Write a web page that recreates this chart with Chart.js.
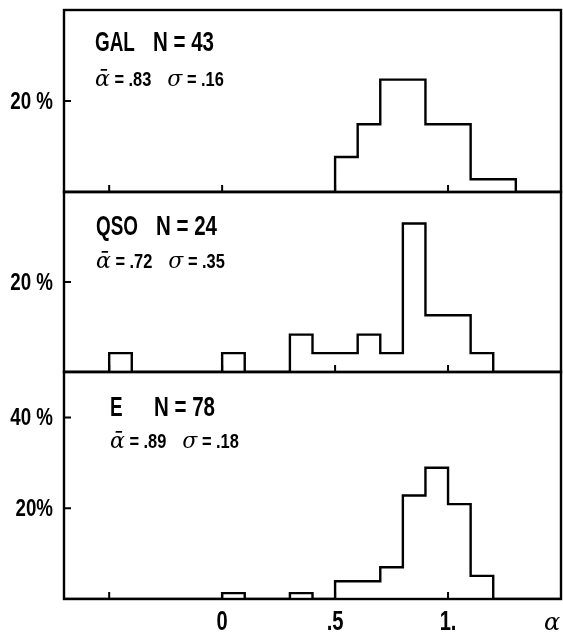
<!DOCTYPE html>
<html>
<head>
<meta charset="utf-8">
<script src="https://cdn.jsdelivr.net/npm/chart.js@4.4.1/dist/chart.umd.min.js"></script>
<style>
html, body { margin: 0; padding: 0; background: #fff; }
#quadro { position: relative; width: 563px; height: 634px; }
canvas { position: absolute; left: 0; top: 0; }
</style>
</head>
<body>
<div id="quadro">
  <canvas id="gal" width="563" height="634"></canvas>
  <canvas id="qso" width="563" height="634"></canvas>
  <canvas id="eli" width="563" height="634"></canvas>
</div>
<script>
// Bordas esquerdas das classes de alfa (largura 0.1)
const classes = [-0.7, -0.6, -0.5, -0.4, -0.3, -0.2, -0.1, 0.0, 0.1, 0.2, 0.3, 0.4, 0.5, 0.6, 0.7, 0.8, 0.9, 1.0, 1.1, 1.2, 1.3, 1.4];
const fimClasses = 1.5;

// Percentuais por classe
const galPct = [0, 0, 0, 0, 0, 0, 0, 0, 0, 0, 0, 0, 7.7, 14.9, 24.7, 24.7, 14.9, 14.9, 2.8, 2.8, 0, 0];
const qsoPct = [0, 0, 4.2, 0, 0, 0, 0, 4.2, 0, 0, 8.3, 4.2, 4.2, 8.3, 4.2, 33, 12.6, 12.6, 4.2, 0, 0, 0];
const ePct   = [0, 0, 0, 0, 0, 0, 0, 1.3, 0, 0, 1.3, 0, 3.9, 3.9, 7.0, 22.8, 28.9, 20.9, 5.1, 0, 0, 0];

// Marcas e rótulos dos eixos
const xMarcas = [-0.5, 0, 0.5, 1.0];
const xRotValores = [0, 0.5, 1.0];
const xRotTextos = ['0', '.5', '1.'];
const galYMarcas = [20], galYRotulos = ['20 %'];
const qsoYMarcas = [20], qsoYRotulos = ['20 %'];
const eYMarcas = [20, 40], eYRotulos = ['20%', '40 %'];

const fonteCond = '"Liberation Sans", Arial, sans-serif';
const fonteGrega = '"DejaVu Serif", "Liberation Serif", serif';

// texto comprimido na horizontal (imita fonte condensada)
function texto(ctx, str, x, y, fonte, alinhar, sx) {
    ctx.save();
    ctx.font = fonte;
    const w = ctx.measureText(str).width * sx;
    const x0 = alinhar === 'right' ? x - w : alinhar === 'center' ? x - w / 2 : x;
    ctx.translate(x0, y);
    ctx.scale(sx, 1);
    ctx.textAlign = 'left';
    ctx.textBaseline = 'middle';
    ctx.fillText(str, 0, 0);
    ctx.restore();
    return w;
}

// Moldura, marcas internas e textos de cada painel
const moldura = {
    id: 'moldura',
    afterDraw(chart, args, o) {
        const { ctx, chartArea: a } = chart;
        const x = chart.scales.x, y = chart.scales.y;
        ctx.save();
        ctx.strokeStyle = '#000';
        ctx.fillStyle = '#000';
        ctx.lineWidth = 2.4;
        ctx.strokeRect(a.left, a.top, a.right - a.left, a.bottom - a.top);
        ctx.lineWidth = 2;
        ctx.beginPath();
        xMarcas.forEach(v => {
            const px = x.getPixelForValue(v);
            ctx.moveTo(px, a.bottom);
            ctx.lineTo(px, a.bottom - 7);
        });
        o.yMarcas.forEach(v => {
            const py = y.getPixelForValue(v);
            ctx.moveTo(a.left, py);
            ctx.lineTo(a.left + 7, py);
        });
        ctx.stroke();

        // rótulos do eixo y
        o.yMarcas.forEach((v, i) => {
            texto(ctx, o.yRotulos[i], a.left - 11, y.getPixelForValue(v) + 1, 'bold 24px ' + fonteCond, 'right', 0.78);
        });

        // título do painel
        const grande = 'bold 27px ' + fonteCond;
        texto(ctx, o.nome, a.left + o.tx, a.top + o.ty1, grande, 'left', 0.7);
        texto(ctx, 'N = ' + o.n, a.left + o.nx, a.top + o.ty1, grande, 'left', 0.76);

        // média e desvio
        const num = 'bold 20px ' + fonteCond;
        const gr = 'italic 22px ' + fonteGrega;
        let px = a.left + o.tx;
        const py = a.top + o.ty2;
        px += texto(ctx, '\u1FB1', px, py, gr, 'left', 1);
        px += texto(ctx, ' = .' + o.media, px, py, num, 'left', 0.82);
        px += 16;
        px += texto(ctx, '\u03C3', px, py, gr, 'left', 1);
        texto(ctx, ' = .' + o.sigma, px, py, num, 'left', 0.82);

        // eixo x do painel de baixo
        if (o.eixoX) {
            xRotValores.forEach((v, i) => {
                texto(ctx, xRotTextos[i], x.getPixelForValue(v), 622, 'bold 28px ' + fonteCond, 'center', 0.72);
            });
            texto(ctx, '\u03B1', a.right - 9, 624, 'italic 24px ' + fonteGrega, 'center', 1);
        }
        ctx.restore();
    }
};

function painel(id, valores, yMax, yMarcas, yRotulos, padTop, padBottom, textos, comEixoX) {
    const pontos = classes.map((c, i) => ({ x: c, y: valores[i] }));
    pontos.push({ x: fimClasses, y: 0 });
    return new Chart(document.getElementById(id), {
        type: 'line',
        data: {
            datasets: [{
                data: pontos,
                stepped: 'before',
                borderColor: '#000',
                borderWidth: 2.4,
                pointRadius: 0,
                fill: false
            }]
        },
        options: {
            responsive: false,
            animation: false,
            events: [],
            layout: { padding: { top: padTop, bottom: padBottom, left: 0, right: 2 } },
            plugins: {
                legend: { display: false },
                tooltip: { enabled: false },
                moldura: Object.assign({ yMarcas: yMarcas, yRotulos: yRotulos, eixoX: comEixoX }, textos)
            },
            scales: {
                x: {
                    type: 'linear',
                    min: -0.7,
                    max: 1.5,
                    display: comEixoX,
                    grid: { display: false, drawTicks: false },
                    border: { display: false },
                    ticks: { display: false },
                    afterFit: s => { if (comEixoX) s.height = 35; }
                },
                y: {
                    min: 0,
                    max: yMax,
                    grid: { display: false, drawTicks: false },
                    border: { display: false },
                    ticks: { display: false },
                    afterFit: s => { s.width = 64; }
                }
            }
        },
        plugins: [moldura]
    });
}

painel('gal', galPct, 40, galYMarcas, galYRotulos, 10, 442,
    { nome: 'GAL', n: 43, media: '83', sigma: '16', tx: 31, nx: 89, ty1: 34, ty2: 70 }, false);
painel('qso', qsoPct, 40, qsoYMarcas, qsoYRotulos, 192, 262,
    { nome: 'QSO', n: 24, media: '72', sigma: '35', tx: 32, nx: 92, ty1: 36, ty2: 70 }, false);
painel('eli', ePct, 50, eYMarcas, eYRotulos, 372, 0,
    { nome: 'E', n: 78, media: '89', sigma: '18', tx: 46, nx: 90, ty1: 37, ty2: 70 }, true);
</script>
</body>
</html>
